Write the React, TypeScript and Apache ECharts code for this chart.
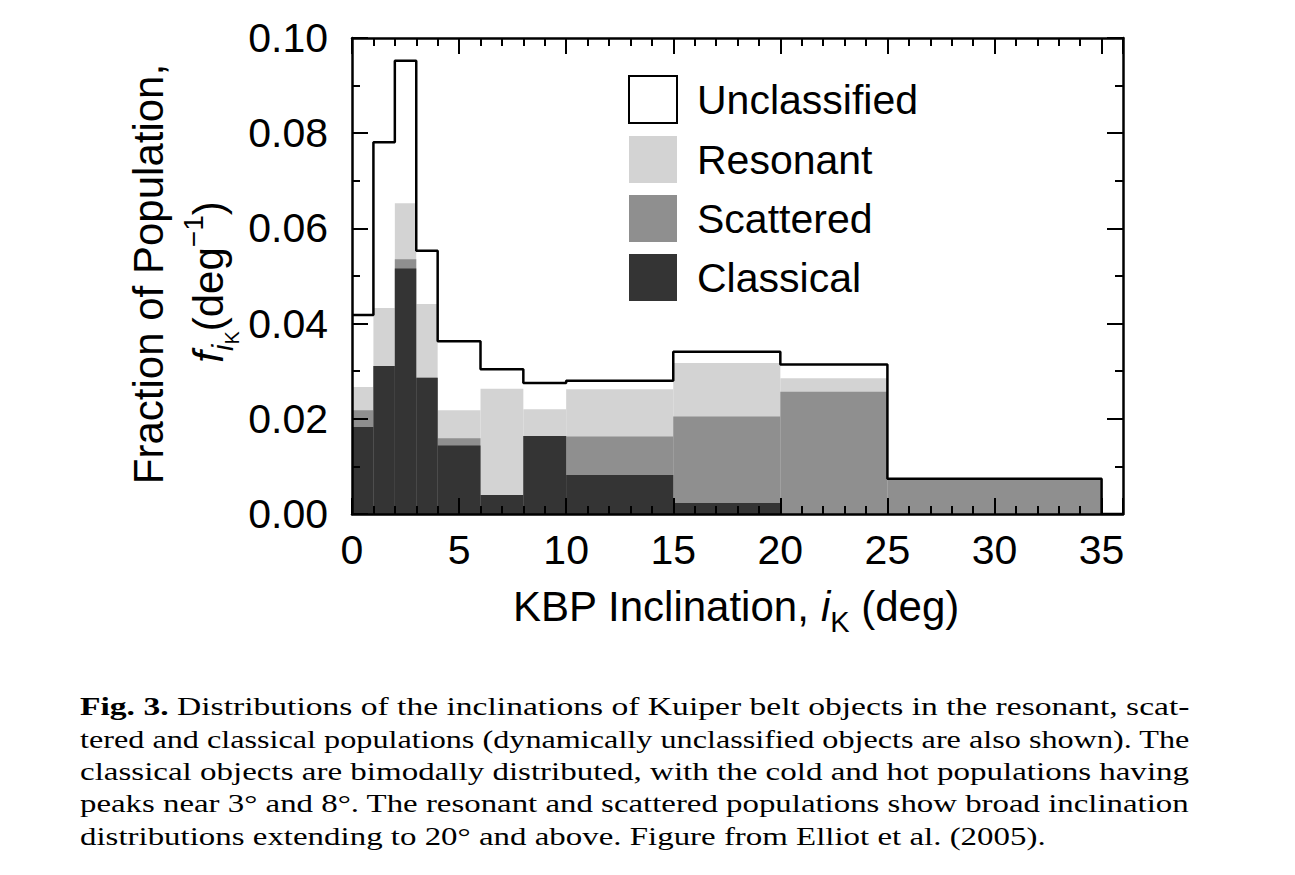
import React, { useEffect, useRef } from "react";
import * as echarts from "echarts";

// ---- data ----
const binEdges = [0, 1, 2, 3, 4, 6, 8, 10, 15, 20, 25, 35];
const classical = [0.0183, 0.0311, 0.0516, 0.0286, 0.0144, 0.004, 0.0164, 0.0082, 0.0023, 0, 0];
const scattered = [0.0035, 0, 0.0019, 0, 0.0015, 0, 0, 0.0081, 0.0182, 0.0257, 0.0074];
const resonant = [0.0049, 0.0122, 0.0118, 0.0155, 0.0059, 0.0223, 0.0056, 0.0099, 0.0112, 0.0028, 0];
const unclassified = [0.0151, 0.0348, 0.0299, 0.0112, 0.0145, 0.0041, 0.0055, 0.0018, 0.0024, 0.0029, 0];
const xTickLabels = [0, 5, 10, 15, 20, 25, 30, 35];
const yTickLabels = ["0.00", "0.02", "0.04", "0.06", "0.08", "0.10"];
const legendNames = ["Unclassified", "Resonant", "Scattered", "Classical"];
const captionLines = [
  "Distributions of the inclinations of Kuiper belt objects in the resonant, scat-",
  "tered and classical populations (dynamically unclassified objects are also shown). The",
  "classical objects are bimodally distributed, with the cold and hot populations having",
  "peaks near 3\u00b0 and 8\u00b0. The resonant and scattered populations show broad inclination",
  "distributions extending to 20\u00b0 and above. Figure from Elliot et al. (2005).",
];
const captionLabel = "Fig. 3.";

const SANS = "'Liberation Sans', Arial, Helvetica, sans-serif";
const SERIF = "'Liberation Serif', 'Times New Roman', serif";
const C_CLASSICAL = "#343434";
const C_SCATTERED = "#8f8f8f";
const C_RESONANT = "#d3d3d3";

function cumulative(...layers: number[][]): number[] {
  return layers[0].map((_, i) => layers.reduce((s, l) => s + l[i], 0));
}

function binData(tops: number[]) {
  return tops.map((t, i) => [binEdges[i], binEdges[i + 1], t]);
}

function rectSeries(name: string, tops: number[], fill: string, itemStyle: any) {
  return {
    type: "custom",
    name,
    xAxisIndex: 0,
    yAxisIndex: 0,
    itemStyle,
    encode: { x: [0, 1], y: 2 },
    data: binData(tops),
    renderItem: (params: any, api: any) => {
      const p0 = api.coord([api.value(0), api.value(2)]);
      const p1 = api.coord([api.value(1), 0]);
      return {
        type: "rect",
        shape: { x: p0[0], y: p0[1], width: p1[0] - p0[0], height: p1[1] - p0[1] },
        style: { fill, stroke: null },
      };
    },
  };
}

export default function App() {
  const ref = useRef<HTMLDivElement>(null);
  useEffect(() => {
    document.body.style.margin = "0";
    const chart = echarts.init(ref.current!, null, { renderer: "svg" });

    const topClassical = cumulative(classical);
    const topScattered = cumulative(classical, scattered);
    const topResonant = cumulative(classical, scattered, resonant);
    const topTotal = cumulative(classical, scattered, resonant, unclassified);

    const outline: number[][] = topTotal.map((t, i) => [binEdges[i], t]);
    outline.push([binEdges[binEdges.length - 1], 0]);
    outline.push([36, 0]);

    // caption justification
    const cv = document.createElement("canvas").getContext("2d")!;
    const fs = 26;
    const measure = (t: string, bold = false) => {
      cv.font = `${bold ? "bold " : ""}${fs}px 'Liberation Serif'`;
      return cv.measureText(t).width;
    };
    const targetW = 1110;
    const widths = captionLines.map((l, i) =>
      i === 0 ? measure(captionLabel, true) + measure(" " + l) : measure(l)
    );
    const scales = widths.map((w) => targetW / w);
    const avgScale = (scales[0] + scales[1] + scales[2] + scales[3]) / 4;
    const captionGraphics = captionLines.map((l, i) => ({
      type: "text",
      x: 80,
      y: 715 + 32.5 * i - 0.34 * fs,
      scaleX: i < 4 ? scales[i] : avgScale,
      style: {
        text: i === 0 ? `{b|${captionLabel}} ${l}` : l,
        fontSize: fs,
        fontFamily: SERIF,
        fill: "#000",
        align: "left",
        verticalAlign: "middle",
        rich: {
          b: { fontSize: fs, fontFamily: SERIF, fontWeight: "bold", fill: "#000", verticalAlign: "middle" },
        },
      },
    }));

    const axisLineStyle = { color: "#000", width: 2.5 };
    const tickStyle = { color: "#000", width: 2 };

    const option: any = {
      animation: false,
      backgroundColor: "#fff",
      grid: { left: 352, top: 38, width: 771, height: 476, containLabel: false },
      xAxis: [
        {
          type: "value", min: 0, max: 36, interval: 5, position: "bottom", z: 5,
          axisLine: { show: true, onZero: false, lineStyle: axisLineStyle },
          axisTick: { show: true, inside: true, length: 16, lineStyle: tickStyle },
          axisLabel: {
            show: true, margin: 15, fontSize: 41, fontFamily: SANS, color: "#000",
            formatter: (v: number) => (xTickLabels.includes(v) ? String(v) : ""),
          },
          splitLine: { show: false },
        },
        {
          type: "value", min: 0, max: 36, interval: 1, position: "bottom", z: 5,
          axisLine: { show: false, onZero: false },
          axisTick: { show: true, inside: true, length: 8, lineStyle: tickStyle },
          axisLabel: { show: false },
          splitLine: { show: false },
        },
        {
          type: "value", min: 0, max: 36, interval: 5, position: "top", z: 5,
          axisLine: { show: true, onZero: false, lineStyle: axisLineStyle },
          axisTick: { show: true, inside: true, length: 16, lineStyle: tickStyle },
          axisLabel: { show: false },
          splitLine: { show: false },
        },
        {
          type: "value", min: 0, max: 36, interval: 1, position: "top", z: 5,
          axisLine: { show: false, onZero: false },
          axisTick: { show: true, inside: true, length: 8, lineStyle: tickStyle },
          axisLabel: { show: false },
          splitLine: { show: false },
        },
      ],
      yAxis: [
        {
          type: "value", min: 0, max: 0.1, interval: 0.02, position: "left", z: 5,
          axisLine: { show: true, onZero: false, lineStyle: axisLineStyle },
          axisTick: { show: true, inside: true, length: 16, lineStyle: tickStyle },
          minorTick: { show: true, splitNumber: 2, length: 8, lineStyle: tickStyle },
          axisLabel: {
            show: true, margin: 24, fontSize: 41, fontFamily: SANS, color: "#000",
            formatter: (v: number) => yTickLabels[Math.round(v / 0.02)] ?? "",
          },
          splitLine: { show: false },
          minorSplitLine: { show: false },
        },
        {
          type: "value", min: 0, max: 0.1, interval: 0.02, position: "right", z: 5,
          axisLine: { show: true, onZero: false, lineStyle: axisLineStyle },
          axisTick: { show: true, inside: true, length: 16, lineStyle: tickStyle },
          minorTick: { show: true, splitNumber: 2, length: 8, lineStyle: tickStyle },
          axisLabel: { show: false },
          splitLine: { show: false },
          minorSplitLine: { show: false },
        },
      ],
      legend: {
        orient: "vertical",
        left: 628,
        top: 75,
        padding: 0,
        itemWidth: 48,
        itemHeight: 47,
        itemGap: 12,
        icon: "rect",
        selectedMode: false,
        data: [
          { name: "Unclassified", itemStyle: { color: "#fff", borderColor: "#000", borderWidth: 2 } },
          { name: "Resonant", itemStyle: { color: C_RESONANT, borderWidth: 0 } },
          { name: "Scattered", itemStyle: { color: C_SCATTERED, borderWidth: 0 } },
          { name: "Classical", itemStyle: { color: C_CLASSICAL, borderWidth: 0 } },
        ],
        formatter: (n: string) => `{t|${n}}`,
        textStyle: {
          rich: {
            t: { fontSize: 41, fontFamily: SANS, color: "#000", padding: [0, 0, 0, 15], lineHeight: 47 },
          },
        },
      },
      series: [
        rectSeries(legendNames[0], topTotal, "#fff", { color: "#fff", borderColor: "#000", borderWidth: 2 }),
        rectSeries(legendNames[1], topResonant, C_RESONANT, { color: C_RESONANT }),
        rectSeries(legendNames[2], topScattered, C_SCATTERED, { color: C_SCATTERED }),
        rectSeries(legendNames[3], topClassical, C_CLASSICAL, { color: C_CLASSICAL }),
        {
          type: "line",
          name: "outline",
          xAxisIndex: 0,
          yAxisIndex: 0,
          step: "end",
          symbol: "none",
          data: outline,
          lineStyle: { color: "#000", width: 2.5 },
          z: 3,
        },
      ],
      graphic: [
        {
          type: "text",
          x: 148.5,
          y: 274,
          rotation: Math.PI / 2,
          style: {
            text: "Fraction of Population,",
            fontSize: 42,
            fontFamily: SANS,
            fill: "#000",
            align: "center",
            verticalAlign: "middle",
          },
        },
        {
          type: "text",
          x: 208.5,
          y: 282,
          rotation: Math.PI / 2,
          style: {
            text: "{f|f}{i|i}{k|K}{m|(deg}{s|\u22121}{m|)}",
            fontSize: 42,
            fontFamily: SANS,
            fill: "#000",
            align: "center",
            verticalAlign: "middle",
            rich: {
              f: { fontSize: 42, fontFamily: SANS, fontStyle: "italic", fill: "#000", verticalAlign: "middle" },
              i: { fontSize: 29, fontFamily: SANS, fontStyle: "italic", fill: "#000", verticalAlign: "middle", padding: [29, 0, 0, 0] },
              k: { fontSize: 20, fontFamily: SANS, fill: "#000", verticalAlign: "middle", padding: [47, 0, 0, 0] },
              m: { fontSize: 42, fontFamily: SANS, fill: "#000", verticalAlign: "middle" },
              s: { fontSize: 28, fontFamily: SANS, fill: "#000", verticalAlign: "middle", padding: [0, 0, 30, 0] },
            },
          },
        },
        {
          type: "text",
          x: 736,
          y: 606,
          style: {
            text: "{m|KBP Inclination, }{i|i}{k|K}{m| (deg)}",
            fontSize: 42,
            fontFamily: SANS,
            fill: "#000",
            align: "center",
            verticalAlign: "middle",
            rich: {
              m: { fontSize: 42, fontFamily: SANS, fill: "#000", verticalAlign: "middle" },
              i: { fontSize: 42, fontFamily: SANS, fontStyle: "italic", fill: "#000", verticalAlign: "middle" },
              k: { fontSize: 29, fontFamily: SANS, fill: "#000", verticalAlign: "middle", padding: [31, 0, 0, 0] },
            },
          },
        },
        ...captionGraphics,
      ],
    };
    chart.setOption(option);
    return () => chart.dispose();
  }, []);
  return <div ref={ref} style={{ width: 1295, height: 875 }} />;
}
